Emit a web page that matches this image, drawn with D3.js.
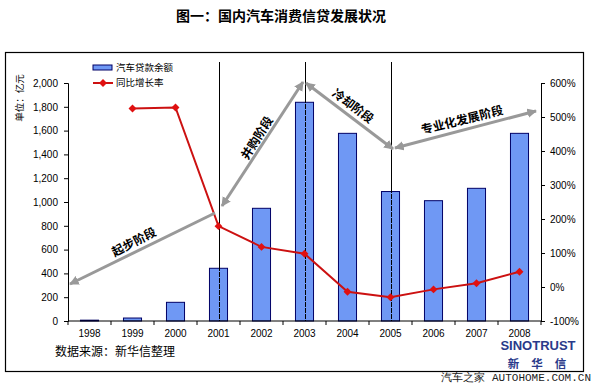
<!DOCTYPE html>
<html>
<head>
<meta charset="utf-8">
<script src="https://cdn.jsdelivr.net/npm/d3@7"></script>
<style>
  body { margin: 0; background: #fff; }
  svg { display: block; font-family: "Liberation Sans", Arial, sans-serif; }
  .cjk { font-family: "Noto Sans CJK SC", sans-serif; }
</style>
</head>
<body>
<svg id="chart"></svg>
<script>
const years = ["1998", "1999", "2000", "2001", "2002", "2003", "2004", "2005", "2006", "2007", "2008"];
const loanBalance = [7, 25, 157, 443, 947, 1838, 1577, 1088, 1011, 1115, 1577];
const growthRate = [null, 525, 528, 179, 118, 98, -14, -30, -7, 11, 45];
const leftTicks = [0, 200, 400, 600, 800, 1000, 1200, 1400, 1600, 1800, 2000];
const rightTicks = [-100, 0, 100, 200, 300, 400, 500, 600];
const stageYears = ["2001", "2003", "2005"];

const width = 593, height = 384;
const margin = { top: 83, right: 52, bottom: 63, left: 68 };
const innerW = width - margin.left - margin.right;
const innerH = height - margin.top - margin.bottom;

const svg = d3.select("#chart").attr("width", width).attr("height", height);

// title + frame
svg.append("text").attr("class", "cjk")
    .attr("x", 281).attr("y", 21)
    .attr("text-anchor", "middle")
    .attr("font-size", 14).attr("font-weight", "bold")
    .text("图一：国内汽车消费信贷发展状况");

svg.append("rect")
    .attr("x", 5.5).attr("y", 52.5).attr("width", 578).attr("height", 319)
    .attr("fill", "none").attr("stroke", "#000").attr("stroke-width", 1.2);

const g = svg.append("g").attr("transform", `translate(${margin.left},${margin.top})`);

const x = d3.scaleBand().domain(years).range([0, innerW]).paddingInner(0.58).paddingOuter(0.29);
const xc = d => x(d) + x.bandwidth() / 2;
const yL = d3.scaleLinear().domain([0, 2000]).range([innerH, 0]);
const yR = d3.scaleLinear().domain([-100, 600]).range([innerH, 0]);

// stage divider lines
g.selectAll(".stage").data(stageYears).enter().append("line")
    .attr("x1", d => Math.round(xc(d)) + 0.5).attr("x2", d => Math.round(xc(d)) + 0.5)
    .attr("y1", -21).attr("y2", innerH)
    .attr("stroke", "#000").attr("stroke-width", 1);

// bars
g.selectAll(".bar").data(years).enter().append("rect")
    .attr("x", d => x(d))
    .attr("y", (d, i) => yL(loanBalance[i]))
    .attr("width", x.bandwidth())
    .attr("height", (d, i) => innerH - yL(loanBalance[i]))
    .attr("fill", "#6f98f4").attr("stroke", "#000066").attr("stroke-width", 1);

// dashed overlay of the stage lines across the bars
g.selectAll(".stageDash").data(stageYears).enter().append("line")
    .attr("x1", d => Math.round(xc(d)) + 0.5).attr("x2", d => Math.round(xc(d)) + 0.5)
    .attr("y1", -21).attr("y2", innerH)
    .attr("stroke", "#000").attr("stroke-width", 1)
    .attr("stroke-dasharray", "5,1");

// axes
const axL = d3.axisLeft(yL).tickValues(leftTicks).tickSize(4).tickPadding(6)
    .tickFormat(d3.format(","));
const axR = d3.axisRight(yR).tickValues(rightTicks).tickSize(4).tickPadding(5)
    .tickFormat(d => d + "%");

const gl = g.append("g").call(axL);
const gr = g.append("g").attr("transform", `translate(${innerW},0)`).call(axR);
[gl, gr].forEach(a => {
    a.select(".domain").attr("stroke", "#000");
    a.selectAll("text").attr("font-size", 10).attr("fill", "#000");
});

// x axis baseline with ticks at category boundaries
const bx = g.append("g").attr("transform", `translate(0,${innerH})`);
bx.append("line").attr("x1", 0).attr("x2", innerW).attr("stroke", "#000");
bx.selectAll(".tk").data(d3.range(years.length + 1)).enter().append("line")
    .attr("x1", i => i * innerW / years.length).attr("x2", i => i * innerW / years.length)
    .attr("y1", 0).attr("y2", 4).attr("stroke", "#000");
bx.selectAll(".lab").data(years).enter().append("text")
    .attr("x", d => xc(d)).attr("y", 16)
    .attr("text-anchor", "middle").attr("font-size", 10)
    .text(d => d);

// growth line
const pts = years.map((d, i) => ({ year: d, v: growthRate[i] })).filter(d => d.v !== null);
g.append("path").datum(pts)
    .attr("fill", "none").attr("stroke", "#cc1111").attr("stroke-width", 2)
    .attr("d", d3.line().x(d => xc(d.year)).y(d => yR(d.v)));
g.selectAll(".pt").data(pts).enter().append("path")
    .attr("transform", d => `translate(${xc(d.year)},${yR(d.v)})`)
    .attr("d", d3.symbol(d3.symbolDiamond2, 40))
    .attr("fill", "#e01010");

// stage arrows (gray) and labels
const defs = svg.append("defs");
defs.append("marker").attr("id", "ah").attr("viewBox", "0 0 10 10")
    .attr("refX", 9).attr("refY", 5).attr("markerWidth", 3.2).attr("markerHeight", 3.2)
    .attr("orient", "auto-start-reverse")
    .append("path").attr("d", "M0,0L10,5L0,10z").attr("fill", "#999");

const arrows = [
    { from: [215, 213], to: [70, 284], both: false },
    { from: [222, 206], to: [303, 82], both: true },
    { from: [306, 83], to: [393, 149], both: true },
    { from: [395, 148], to: [536, 111], both: true }
];
svg.selectAll(".arrow").data(arrows).enter().append("line")
    .attr("x1", d => d.from[0]).attr("y1", d => d.from[1])
    .attr("x2", d => d.to[0]).attr("y2", d => d.to[1])
    .attr("stroke", "#999").attr("stroke-width", 3)
    .attr("marker-end", "url(#ah)")
    .attr("marker-start", d => d.both ? "url(#ah)" : null);

const stageLabels = [
    { text: "起步阶段", x: 134, y: 242, rot: -27 },
    { text: "并购阶段", x: 257, y: 138, rot: -58 },
    { text: "冷却阶段", x: 353, y: 106, rot: 37 },
    { text: "专业化发展阶段", x: 462, y: 120, rot: -14 }
];
svg.selectAll(".stageLab").data(stageLabels).enter().append("text")
    .attr("class", "cjk")
    .attr("transform", d => `translate(${d.x},${d.y}) rotate(${d.rot})`)
    .attr("text-anchor", "middle").attr("dy", "0.35em")
    .attr("font-size", 12).attr("font-weight", "bold")
    .text(d => d.text);

// legend
const lg = svg.append("g").attr("transform", "translate(93,60)");
lg.append("rect").attr("x", 0).attr("y", 5).attr("width", 19).attr("height", 5)
    .attr("fill", "#6f98f4").attr("stroke", "#000066");
lg.append("text").attr("class", "cjk").attr("x", 23).attr("y", 8).attr("dy", "0.35em")
    .attr("font-size", 9.5).text("汽车贷款余额");
lg.append("line").attr("x1", 0).attr("x2", 20).attr("y1", 23).attr("y2", 23)
    .attr("stroke", "#cc1111").attr("stroke-width", 2);
lg.append("path").attr("transform", "translate(10,23)")
    .attr("d", d3.symbol(d3.symbolDiamond2, 40)).attr("fill", "#e01010");
lg.append("text").attr("class", "cjk").attr("x", 23).attr("y", 23).attr("dy", "0.35em")
    .attr("font-size", 9.5).text("同比增长率");

// left axis unit
svg.append("text").attr("class", "cjk")
    .attr("transform", "translate(20,98) rotate(-90)")
    .attr("text-anchor", "middle").attr("dy", "0.35em")
    .attr("font-size", 9.5).text("单位：亿元");

// source
svg.append("text").attr("class", "cjk")
    .attr("x", 55).attr("y", 352).attr("dy", "0.35em")
    .attr("font-size", 12).text("数据来源：新华信整理");

// logo
svg.append("text")
    .attr("x", 538).attr("y", 350)
    .attr("text-anchor", "middle")
    .attr("font-size", 13).attr("font-weight", "bold").attr("fill", "#2a3a8a")
    .text("SINOTRUST");
svg.append("text").attr("class", "cjk")
    .attr("x", 543).attr("y", 363.5).attr("dy", "0.35em")
    .attr("text-anchor", "middle")
    .attr("font-size", 11.5).attr("font-weight", "bold").attr("fill", "#2a3a8a")
    .attr("letter-spacing", 12)
    .text("新华信");

// watermark
svg.append("text")
    .attr("x", 591).attr("y", 381)
    .attr("text-anchor", "end")
    .attr("font-size", 11).attr("fill", "#222")
    .attr("font-family", "Liberation Mono, monospace")
    .text("汽车之家 AUTOHOME.COM.CN");
</script>
</body>
</html>
